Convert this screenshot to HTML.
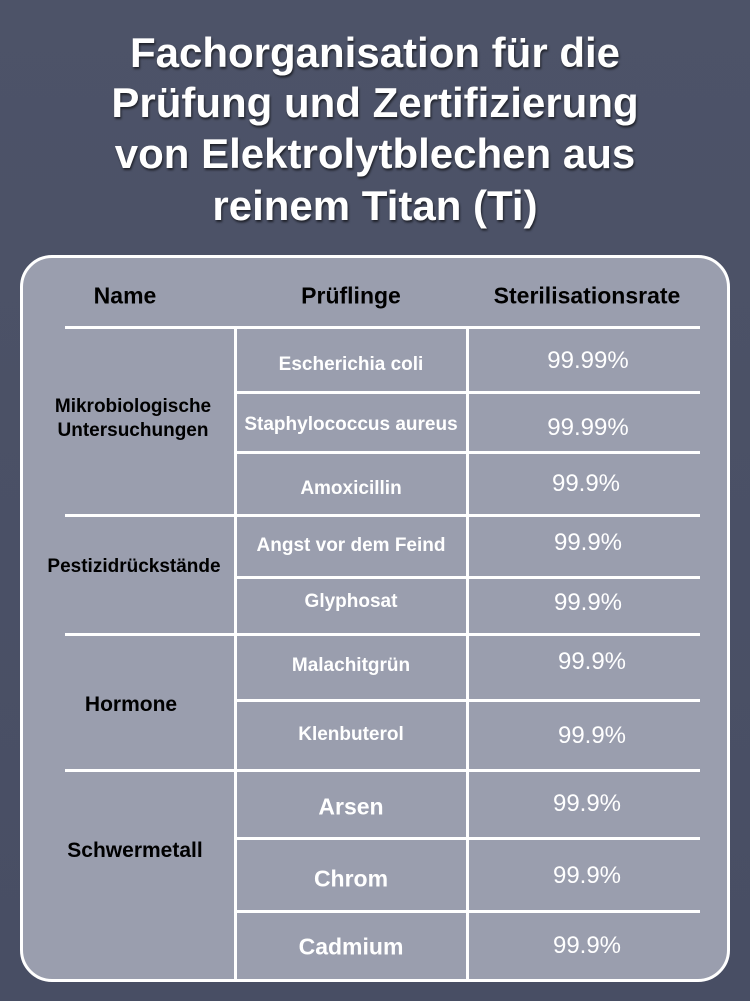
<!DOCTYPE html>
<html><head><meta charset="utf-8"><style>
*{margin:0;padding:0;box-sizing:border-box}
body{width:750px;height:1001px;overflow:hidden;background:linear-gradient(#4d5368,#484e64);font-family:"Liberation Sans",Arial,sans-serif;position:relative}
.t{position:absolute;left:0;width:750px;text-align:center;color:#fff;font-weight:bold;font-size:42px;line-height:51px;text-shadow:1px 2px 2px rgba(0,0,0,.6)}
.card{position:absolute;left:20px;top:255px;width:710px;height:727px;background:#9a9eae;border:3px solid #fff;border-radius:32px}
.h{position:absolute;height:3px;background:#fff}
.v{position:absolute;width:3px;background:#fff;top:327px;height:655px}
.x{position:absolute;transform:translate(-50%,-50%);white-space:nowrap;text-align:center}
.hd{font-weight:bold;font-size:23px;color:#000}
.g{font-weight:bold;font-size:19px;color:#000;line-height:24px}
.n{font-weight:bold;font-size:19px;color:#fff}
.nb{font-weight:bold;font-size:23px;color:#fff}
.p{font-size:24px;color:#fff;font-family:"Liberation Sans",sans-serif}
</style></head><body>
<div class="t" style="top:27px">Fachorganisation für die</div>
<div class="t" style="top:77px">Prüfung und Zertifizierung</div>
<div class="t" style="top:128px">von Elektrolytblechen aus</div>
<div class="t" style="top:180px">reinem Titan (Ti)</div>
<div class="card"></div>
<div class="h" style="left:65px;width:635px;top:326px"></div>
<div class="h" style="left:65px;width:635px;top:514px"></div>
<div class="h" style="left:65px;width:635px;top:633px"></div>
<div class="h" style="left:65px;width:635px;top:769px"></div>
<div class="h" style="left:235px;width:465px;top:391px"></div>
<div class="h" style="left:235px;width:465px;top:451px"></div>
<div class="h" style="left:235px;width:465px;top:576px"></div>
<div class="h" style="left:235px;width:465px;top:699px"></div>
<div class="h" style="left:235px;width:465px;top:837px"></div>
<div class="h" style="left:235px;width:465px;top:910px"></div>
<div class="v" style="left:234px"></div>
<div class="v" style="left:466px"></div>
<div class="x hd" style="left:125px;top:296px">Name</div>
<div class="x hd" style="left:351px;top:296px">Prüflinge</div>
<div class="x hd" style="left:587px;top:296px">Sterilisationsrate</div>
<div class="x g" style="left:133px;top:419px">Mikrobiologische<br>Untersuchungen</div>
<div class="x g" style="left:134px;top:567px">Pestizidrückstände</div>
<div class="x g" style="left:131px;top:705px;font-size:21px">Hormone</div>
<div class="x g" style="left:135px;top:851px;font-size:21px">Schwermetall</div>
<div class="x n" style="left:351px;top:365px">Escherichia coli</div>
<div class="x n" style="left:351px;top:425px">Staphylococcus aureus</div>
<div class="x n" style="left:351px;top:489px">Amoxicillin</div>
<div class="x n" style="left:351px;top:546px">Angst vor dem Feind</div>
<div class="x n" style="left:351px;top:602px">Glyphosat</div>
<div class="x n" style="left:351px;top:666px">Malachitgrün</div>
<div class="x n" style="left:351px;top:735px">Klenbuterol</div>
<div class="x nb" style="left:351px;top:807px">Arsen</div>
<div class="x nb" style="left:351px;top:879px">Chrom</div>
<div class="x nb" style="left:351px;top:947px">Cadmium</div>
<div class="x p" style="left:588px;top:361px">99.99%</div>
<div class="x p" style="left:588px;top:428px">99.99%</div>
<div class="x p" style="left:586px;top:484px">99.9%</div>
<div class="x p" style="left:588px;top:543px">99.9%</div>
<div class="x p" style="left:588px;top:603px">99.9%</div>
<div class="x p" style="left:592px;top:662px">99.9%</div>
<div class="x p" style="left:592px;top:736px">99.9%</div>
<div class="x p" style="left:587px;top:804px">99.9%</div>
<div class="x p" style="left:587px;top:876px">99.9%</div>
<div class="x p" style="left:587px;top:946px">99.9%</div>
</body></html>
